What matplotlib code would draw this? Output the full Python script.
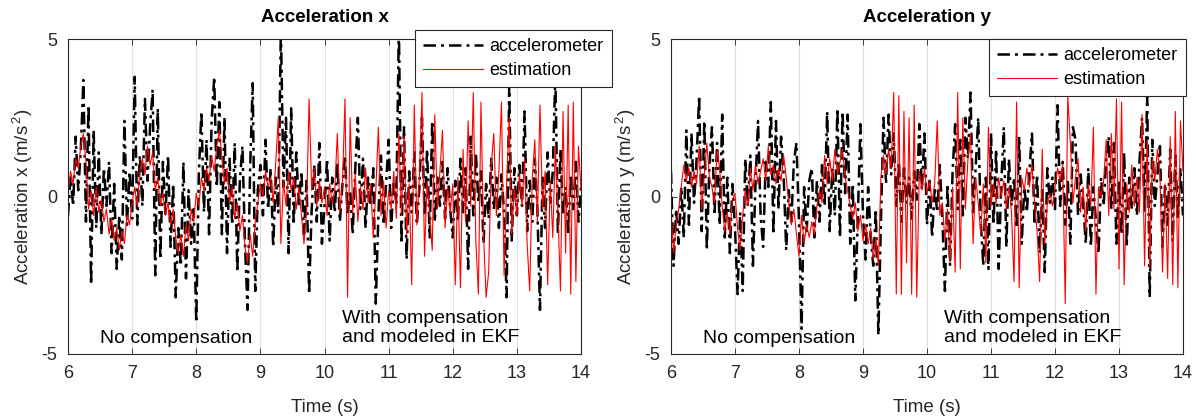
import numpy as np
import matplotlib.pyplot as plt
from matplotlib.lines import Line2D

plt.rcParams["font.family"] = ["Liberation Sans", "DejaVu Sans"]
plt.rcParams["mathtext.fontset"] = "custom"
plt.rcParams["mathtext.rm"] = "Liberation Sans"
plt.rcParams["mathtext.it"] = "Liberation Sans"
plt.rcParams["axes.unicode_minus"] = False

# sampled every 0.04 s from 6 s to 14 s (25 values per second)
acc_x = [
    -0.6, 0.6, -0.3, 1.9, 0.2, 1.5, 3.7, -0.8, 2.9, -2.8, 2.1, -1.0, 1.4, -1.2, 0.9, -0.3, 1.1, -1.8, 0.4, -2.3, -0.6, -2.0, 2.4, -0.9, 0.8,
    -0.7, 3.8, -0.9, 1.3, -0.3, 3.1, 0.5, 2.2, 3.4, -2.5, 2.8, -2.0, 1.1, -0.6, 1.3, -1.6, 0.4, -3.2, -1.0, -2.2, 1.1, -2.6, 0.2, -1.5, -0.4,
    -4.0, 0.7, 2.7, -0.5, 1.8, -1.2, 2.4, 3.8, 0.3, 3.0, -1.2, 2.5, -1.8, 1.2, -0.9, 1.7, -2.4, 0.5, 1.6, -1.5, -3.6, 0.9, 3.6, -3.0, 0.2,
    1.0, -0.6, 1.8, -0.4, 0.9, -1.6, 0.6, -0.5, 5.4, 0.3, 2.5, -1.8, 2.8, -0.9, 1.4, -0.3, 0.8, -1.2, 0.5, -3.1, -0.4, 1.0, -0.8, 1.7, -1.5,
    -0.3, 1.2, -1.4, 0.6, -0.5, 1.1, -0.8, 0.4, 1.3, -0.6, 0.2, -1.2, 0.9, 2.5, -0.4, 1.2, -1.0, 0.6, -0.3, 0.9, -3.4, -0.6, 1.3, -0.9, 0.4,
    1.8, -1.0, 0.5, -0.2, 5.4, -1.5, 2.2, -2.0, 0.8, -0.5, 1.4, -0.9, 0.3, 2.5, -0.6, 1.5, -1.3, 2.4, -0.8, 0.6, -0.3, 1.1, -0.7, 0.9, -0.4,
    -1.3, 0.5, -0.8, 1.2, -0.5, 0.9, -2.3, 1.9, -0.6, 1.4, -0.2, 0.8, -1.5, 0.4, -0.7, 1.2, -0.4, 0.6, -1.0, 0.7, -0.5, -3.2, 3.5, -1.4, 0.9,
    -0.6, 1.0, -0.3, 2.7, -1.1, 0.5, -0.8, 1.2, -0.4, -3.6, 0.6, -1.0, 1.4, -0.2, 0.8, 3.9, -1.2, 1.5, -0.6, 0.3, -1.2, 0.7, -0.4, 1.1, -0.8,
    0.3,
]
est_x = [
    0.1, 0.8, 0.4, 1.2, 0.9, 1.6, 2.0, 1.1, -0.4, 0.2, -0.6, 0.3, -0.5, -0.1, -0.8, -0.4, -1.2, -0.7, -1.4, -1.0, -1.7, -1.1, -1.5, -0.6, -0.9,
    -0.2, 0.3, -0.3, 0.8, 1.2, 0.7, 1.6, 1.0, 1.4, 0.2, 0.6, -0.3, 0.1, -0.6, -0.2, -0.9, -0.4, -1.3, -1.8, -1.2, -1.9, -0.9, -1.4, -0.4, -0.8,
    0.1, -0.3, 0.6, 0.2, 0.9, 0.5, 1.3, 0.8, 1.6, 2.1, 1.2, 0.4, 0.9, -0.2, 0.3, -0.7, -0.2, -1.1, -0.6, -1.6, -2.1, -1.2, -1.9, -0.8, -0.2,
    0.4, 0.0, 0.8, 0.3, 0.6, -0.2, 1.1, 2.5, -1.5, 0.5, -0.3, 0.8, 0.2, 0.6, -0.4, 0.3, -0.6, -1.5, -0.5, 3.1, 0.2, 0.9, -0.3, 0.5, -0.2,
    0.3, -0.6, 0.4, -0.2, 0.2, 2.0, -0.5, 0.4, 3.1, -3.2, 2.5, -0.5, 0.7, -0.8, 0.3, -0.4, 0.9, -0.2, 0.4, -1.3, 0.2, 2.2, -0.6, 0.5, -1.0,
    0.2, -0.4, 0.8, -0.7, 2.0, -0.6, 1.9, -1.2, 0.4, -2.8, 2.9, -0.9, 0.6, 3.3, -1.9, 0.5, -0.6, -1.7, 2.6, -0.4, 0.8, 2.1, -1.0, 0.3, -0.5,
    0.4, -2.8, 0.6, -2.9, 1.5, -0.8, 2.4, -0.3, 3.3, -1.4, -3.1, 3.0, -1.2, -3.2, -2.4, 1.0, 2.0, -0.6, 0.8, 3.0, -2.5, 0.4, 2.5, -1.2, 0.3,
    -0.6, 0.7, -0.3, 1.2, -1.5, -3.0, 0.6, 1.8, -0.8, 2.9, -0.4, 0.8, -2.8, 0.5, -1.3, 1.6, -0.5, -3.0, 2.7, -1.8, 2.9, -3.1, 3.0, -2.7, 1.6,
    0.2,
]
acc_y = [
    0.8, -2.2, -0.4, -1.5, 0.3, -1.3, 2.1, -0.9, 2.0, -0.2, 1.2, 3.2, -1.1, 2.4, -1.7, 1.0, 2.2, -0.6, 1.7, -0.9, 2.6, -1.3, 0.6, -1.8, 0.4,
    -1.0, -3.1, -0.5, -3.0, 1.2, -0.3, 1.3, -2.2, 0.4, 2.4, -0.6, -1.6, 1.1, 0.3, 3.0, -1.2, 2.4, -0.4, 1.9, 0.7, -1.7, 0.2, -0.8, 1.1, 1.7,
    -0.8, -4.2, 0.3, -1.1, 0.5, 0.9, -1.3, 0.5, -0.8, 1.0, -0.3, 2.7, -1.1, 0.9, -0.6, 2.8, -1.3, 2.7, 0.1, 2.6, -1.5, 0.4, -3.3, -0.6, 2.3,
    -0.6, -2.0, 0.3, -1.2, -2.2, -0.4, -4.4, -0.8, 2.5, 0.4, 2.6, 0.7, 2.0, -0.3, 1.1, -0.8, 0.9, -0.2, 0.6, -0.7, 0.8, -0.1, 2.3, 0.2, 2.0,
    -0.9, 0.5, -1.3, 0.3, -0.5, 1.0, -0.7, -3.0, 0.4, -2.2, 0.8, 2.3, -0.4, 1.8, -0.6, 2.5, 1.2, 3.3, -0.5, 0.9, 2.5, -0.8, -2.2, 0.6, -2.3,
    2.0, -0.9, 1.5, -2.3, 0.4, 2.2, -1.6, 1.2, -0.3, 0.6, -1.0, 1.9, -1.5, 0.3, -0.5, 0.8, 2.0, -0.9, 0.7, -1.8, 0.2, -2.4, 0.9, -0.2, 0.6,
    -0.4, 2.9, -0.3, 1.1, -0.9, 0.5, -1.5, 2.2, 1.8, -0.6, 0.7, -0.2, -1.5, 0.9, -1.6, 0.3, -0.8, -1.8, 0.6, -0.3, 1.2, 1.9, -0.4, 1.7, -1.5,
    0.5, -1.2, 1.4, -1.6, 0.6, -0.4, 0.9, -0.6, 1.1, 2.5, -0.5, 3.2, -3.2, 1.8, -0.3, 0.7, 1.6, -1.6, 0.4, -0.9, 1.5, -1.4, 1.3, -0.7, 0.9,
    -0.6,
]
est_y = [
    -0.4, -1.8, -0.9, -0.4, 0.3, 1.0, 0.5, 0.9, 0.3, 0.8, 0.4, 1.6, -0.4, 0.7, 1.7, 0.6, 0.3, -0.2, 1.5, 0.9, -0.3, -1.1, -0.5, -1.2, -0.1,
    0.1, -1.0, -1.7, -0.6, 0.2, -0.3, 0.9, 0.2, 1.0, 0.4, 0.8, 1.2, 0.5, 1.6, 0.7, 1.0, 0.4, 0.9, 0.5, 1.3, 0.6, -0.2, -0.9, -0.4, -1.2,
    -1.9, -0.6, -1.5, -0.9, -1.3, -0.8, -1.2, -0.3, 0.2, -0.2, 1.3, 0.4, 1.2, 0.5, 1.5, 0.7, 1.1, 1.5, 0.6, 0.2, -0.3, -0.7, -0.2, -1.1, -0.6,
    -1.4, -0.9, -1.5, -1.0, -2.0, -1.3, -2.2, 0.6, 1.3, 0.7, 1.5, 0.9, 3.3, -3.1, 3.2, -3.1, 2.7, -2.1, 2.5, -3.1, 2.9, -3.2, 0.8, 0.2, 0.9,
    0.1, 0.5, -0.2, 0.4, 2.4, -0.6, -0.2, -1.4, -0.4, -2.1, 0.3, -2.4, 3.3, -2.3, 2.5, -0.4, 1.2, 2.0, -1.5, 0.6, -0.2, -1.2, 0.4, -2.1, 2.2,
    -0.3, 0.4, -0.2, 0.6, 0.0, 0.5, -0.4, 0.3, -0.5, -2.7, 3.0, -2.9, 0.6, 0.2, 0.9, 0.3, 1.0, -0.2, -1.1, -2.7, 1.5, -1.5, -0.2, 0.1, -0.3,
    0.3, 0.9, 0.5, 1.0, -3.4, 3.2, 1.7, -0.2, 0.6, 1.2, -0.5, 0.3, -1.1, 0.4, -0.3, 2.2, -3.1, 0.3, 0.0, 0.5, 1.8, -0.6, 2.0, -0.4, 3.1,
    -2.3, 3.0, -2.8, 0.4, -0.5, 1.0, -0.3, 0.6, -0.5, 2.6, -2.2, 1.8, -2.3, 1.2, 0.5, 1.5, 0.7, -2.4, 0.4, -2.6, 1.9, -2.8, 2.7, -2.9, 2.4,
    0.8,
]

panels = [
    ("Acceleration x", "Acceleration x (m/s$^{\\,2}$)", acc_x, est_x),
    ("Acceleration y", "Acceleration y (m/s$^{\\,2}$)", acc_y, est_y),
]
x_ticks = [6, 7, 8, 9, 10, 11, 12, 13, 14]
y_ticks = [-5, 0, 5]
series_labels = ["accelerometer", "estimation"]
note_left = "No compensation"
note_right = "With compensation\nand modeled in EKF"

AX_COLOR = "#262626"
DASHDOT = (0, (5, 2, 1.2, 2))

fig = plt.figure(figsize=(11.96, 4.17), dpi=100)
axes = [
    fig.add_axes([68 / 1196, 1 - 354 / 417, 513 / 1196, 315 / 417]),
    fig.add_axes([671 / 1196, 1 - 354 / 417, 512 / 1196, 315 / 417]),
]
legend_anchor = [(612 / 1196, 1 - 30 / 417), (1186 / 1196, 1 - 39 / 417)]

for ax, (title, ylabel, acc, est), anchor in zip(axes, panels, legend_anchor):
    t_acc = np.linspace(6, 14, len(acc))
    t_est = np.linspace(6, 14, len(est))
    ax.plot(t_acc, acc, color="black", linestyle=DASHDOT, linewidth=1.8)
    ax.plot(t_est, est, color="red", linewidth=0.8)

    ax.set_xlim(6, 14)
    ax.set_ylim(-5, 5)
    ax.set_xticks(x_ticks)
    ax.set_yticks(y_ticks)
    ax.grid(axis="x", color="#dfdfdf", linewidth=0.8)
    ax.set_axisbelow(True)
    ax.tick_params(direction="in", top=True, right=True, length=4, width=0.6,
                   labelsize=13, colors=AX_COLOR, pad=8)
    for sp in ax.spines.values():
        sp.set_color(AX_COLOR)
        sp.set_linewidth(0.8)

    ax.set_title(title, fontsize=13.5, fontweight="bold", pad=12)
    ax.set_xlabel("Time (s)", fontsize=13.5, color=AX_COLOR, labelpad=12)
    ax.set_ylabel(ylabel, fontsize=13.5, color=AX_COLOR, labelpad=4)

    ax.text(6.5, -4.5, note_left, fontsize=14, va="center", ha="left")
    ax.text(10.27, -4.17, note_right, fontsize=14, va="center", ha="left",
            linespacing=1.1)

    handles = [
        Line2D([], [], color="black", linestyle=DASHDOT, linewidth=1.8),
        Line2D([], [], color="red", linewidth=0.8),
    ]
    leg = fig.legend(handles, series_labels, loc="upper right",
                     bbox_to_anchor=anchor, fontsize=13, handlelength=3.3,
                     handletextpad=0.4, borderpad=0.45, labelspacing=0.4,
                     borderaxespad=0, fancybox=False, framealpha=1)
    leg.get_frame().set_edgecolor(AX_COLOR)
    leg.get_frame().set_linewidth(0.8)

fig.savefig("out.png", dpi=100)
